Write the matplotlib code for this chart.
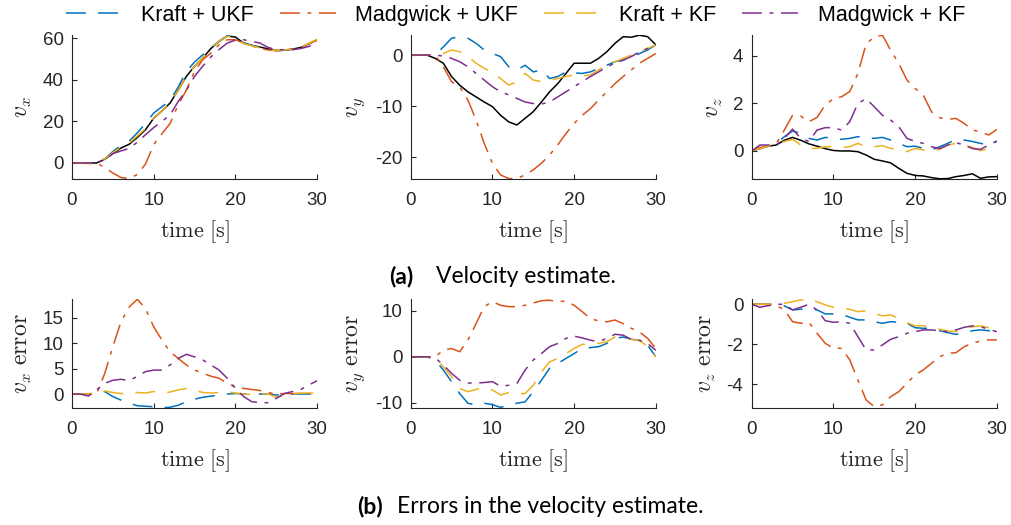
import matplotlib
matplotlib.use("Agg")
import matplotlib.pyplot as plt

plt.rcParams["mathtext.fontset"] = "cm"
plt.rcParams["axes.unicode_minus"] = False
plt.rcParams["font.family"] = ["Liberation Sans", "DejaVu Sans"]

# time axis [s], one sample per second
TIME = list(range(31))

SERIES = ["Kraft + UKF", "Madgwick + UKF", "Kraft + KF", "Madgwick + KF"]
COLORS = ["#0072BD", "#D95319", "#EDB120", "#7E2F8E"]
STYLES = [(0, (13, 8)), (0, (13, 5, 2.5, 5)), (0, (13, 8)), (0, (13, 5, 2.5, 5))]

# ---- velocity estimate (top row) ----
vx_true = [0, 0, 0, 0, 1.8, 4.5, 7.2, 9.0, 12.3, 16.0, 21.5, 25, 28.8, 35, 41.6, 46.5,
           50.4, 55, 58.4, 61, 60.5, 57.6, 56.5, 55.7, 54.8, 54, 54.2, 54.7, 55.5, 57.3, 59.2]
vx_est = [
    [0, 0, 0, 0, 2, 5.5, 8.5, 10.5, 14.5, 19, 24, 27, 30, 36.5, 44, 48.5,
     52, 55.5, 58.5, 61, 60.5, 57.6, 56.5, 55.5, 54.7, 54, 54.2, 54.7, 55.5, 57.3, 59.3],
    [0, 0, 0, 0, -2.2, -4.8, -7, -7.5, -5.5, -0.5, 8.8, 14, 19, 28, 35, 44,
     49.6, 52.8, 56.8, 59.2, 59.2, 57.6, 56.3, 55, 54.3, 54, 54.2, 54.7, 55.5, 57.3, 59],
    [0, 0, -0.3, -0.3, 2, 5, 7.5, 9.5, 13, 16.5, 21.5, 25, 29, 35, 41.5, 46.5,
     50.5, 55, 58.5, 60.8, 60.3, 57.3, 56.3, 55.3, 54.5, 54, 54.3, 54.8, 55.7, 57.5, 59.5],
    [0, 0, 0, 0, 1.5, 4.5, 5.8, 7, 10, 13.6, 17, 20, 23, 29.6, 35, 41.6,
     46.5, 51, 54.5, 57.6, 59, 59.2, 58.5, 57.6, 55.5, 54.4, 54.4, 54.4, 55, 56, 57.3],
]

vy_true = [0, 0, 0, -0.65, -1.6, -4.2, -5.9, -7.2, -8.2, -9.2, -10.1, -11.8, -13.1, -13.7, -12.4, -11.1,
           -9.2, -7.2, -5.6, -3.6, -1.6, -1.6, -1.6, -0.65, 0.65, 2.3, 3.6, 3.5, 3.9, 3.6, 2]
vy_est = [
    [0, 0, 0, 0, 1.6, 3.3, 3.6, 3.3, 2.3, 1, 0.3, -0.3, -2.3, -2.9, -2, -3.3,
     -2.9, -4.6, -4.2, -3.3, -3.5, -3.6, -3.3, -2.6, -2, -1.3, -1, -0.3, 0.3, 1, 2],
    [0, 0, 0, 0, -2.3, -5.2, -6.2, -8.8, -12.7, -17.3, -21.2, -23.5, -24.2, -24.2, -23.5, -22.5,
     -21.2, -19.6, -17.6, -15.4, -13.4, -11.8, -10.5, -8.8, -7.2, -5.6, -4.2, -2.9, -1.6, -0.65, 0.3],
    [0, 0, 0, 0, 0.3, 1, 0.65, -0.3, -1.6, -2.6, -3.3, -4.6, -5.9, -5.2, -3.6, -4.9,
     -5.2, -4.9, -4.6, -4.2, -3.9, -4.1, -3.9, -2.9, -2, -1.3, -0.65, 0, 0.65, 1.3, 2],
    [0, 0, 0, 0, -0.2, -0.65, -1.3, -2.3, -3.6, -4.9, -6.2, -7.2, -7.8, -8.5, -9.2, -9.5,
     -9.6, -9.2, -8.2, -7.2, -6.2, -5.2, -4.2, -3.3, -2.3, -1.6, -1, -0.3, 0.65, 1.3, 2],
]

vz_true = [0, 0.1, 0.2, 0.25, 0.45, 0.57, 0.45, 0.3, 0.2, 0.1, 0.02, 0, 0, -0.03, -0.17, -0.35,
           -0.42, -0.5, -0.73, -0.94, -1.03, -1.05, -1.12, -1.17, -1.16, -1.08, -1.03, -0.96, -1.15, -1.09, -1.08]
vz_est = [
    [0, 0.1, 0.2, 0.3, 0.6, 0.84, 0.74, 0.53, 0.46, 0.57, 0.53, 0.49, 0.53, 0.6, 0.56, 0.53,
     0.57, 0.46, 0.32, 0.18, 0.2, 0.11, 0.04, 0.18, 0.32, 0.49, 0.46, 0.4, 0.32, 0.25, 0.4],
    [0, 0.15, 0.2, 0.3, 0.88, 1.5, 1.47, 1.23, 1.41, 1.93, 2.2, 2.28, 2.5, 3.26, 4.5, 4.8,
     4.87, 4.24, 3.68, 2.98, 2.63, 2.35, 1.65, 1.4, 1.33, 1.37, 1.16, 0.88, 0.81, 0.67, 0.91],
    [0, 0.1, 0.2, 0.3, 0.4, 0.49, 0.25, 0.11, 0.11, 0.18, 0.18, 0.15, 0.18, 0.32, 0.18, 0.18,
     0.22, 0.11, 0.07, -0.03, 0.11, 0.04, -0.03, 0.07, 0.25, 0.32, 0.25, 0.15, 0.01, 0.11, 0.25],
    [0, 0.25, 0.25, 0.25, 0.53, 0.92, 0.53, 0.4, 0.88, 0.98, 0.98, 0.88, 1.23, 2.0, 2.2, 1.86,
     1.5, 1.3, 1.02, 0.53, 0.4, 0.32, 0.18, 0.1, 0.25, 0.35, 0.25, 0.1, 0.07, 0.25, 0.42],
]

# ---- errors in the velocity estimate (bottom row) ----
vx_err = [
    [0, 0, 0, 0, 0.5, -0.5, -1.2, -1.8, -2.3, -2.4, -2.5, -2.7, -2.6, -2.2, -1.5, -1,
     -0.65, -0.4, -0.2, 0, 0.1, 0, 0, 0, 0, -0.2, 0, 0, 0, 0, 0],
    [0, 0, 0, 0, 4, 9.3, 14.2, 17.1, 18.6, 16.8, 13.2, 10.6, 8.3, 7, 5.7, 4.7,
     4.1, 3.5, 3.1, 2.1, 1.4, 1.1, 0.9, 0.7, 0.3, 0, 0.1, 0.1, 0.1, 0.1, 0.1],
    [0, 0, 0, 0.5, 0.6, 0.3, 0.1, 0.1, 0.3, 0.2, 0.5, 0.2, 0.4, 0.8, 1.1, 0.8,
     0.3, 0.2, 0.3, 0.4, 0.2, 0, -0.1, 0.1, 0, -0.6, -0.3, 0, 0.2, 0.2, 0.1],
    [0, 0, -0.4, 0.8, 2.1, 2.7, 2.9, 2.6, 3.5, 4.4, 4.7, 4.7, 5.7, 7, 7.8, 7.3,
     6.7, 5.7, 4.7, 3.1, 1.1, -0.5, -1.5, -1.7, -1.7, -0.85, 0.1, 0.5, 0.9, 1.8, 2.6],
]

vy_err = [
    [0, 0, 0, -0.7, -2.9, -5.4, -8, -10.1, -10.5, -10.1, -10.4, -11, -10.5, -10.1, -9.8, -7.6,
     -5.1, -2.5, -1.45, -0.36, 0.7, 1.8, 2, 2.2, 2.9, 4, 4.3, 3.8, 3.6, 2.5, 0],
    [0, 0, 0, 0, 1.45, 1.8, 1.1, 3.6, 7.2, 10.9, 12, 11.2, 10.9, 10.9, 11.2, 11.7,
     12.2, 12.3, 12, 12.1, 11.2, 9.8, 8.3, 7.8, 7.6, 8, 7.2, 6.2, 5.4, 4, 1.8],
    [0, 0, 0, -0.3, -2.2, -4.3, -6.9, -7.6, -7.1, -6.7, -7.2, -8.3, -7.8, -8, -8, -6.2,
     -3.3, -1.1, -0.36, 0.7, 1.8, 2.7, 2.75, 2.9, 3.3, 4.3, 4.3, 3.8, 3.5, 2.3, 0],
    [0, 0, 0, -0.2, -1.8, -3.6, -5.1, -5.7, -5.7, -5.6, -5.4, -6.4, -6.2, -5.8, -2.9, -0.7,
     0.7, 2.2, 2.9, 4, 4.5, 4.1, 3.6, 3.3, 4, 4.9, 4.7, 3.8, 3.6, 2.9, 1.4],
]

vz_err = [
    [0, 0, 0, 0, -0.08, -0.28, -0.25, -0.2, -0.28, -0.48, -0.48, -0.5, -0.65, -0.78, -0.78, -0.87,
     -0.95, -0.87, -0.9, -0.95, -1.17, -1.2, -1.2, -1.32, -1.42, -1.5, -1.45, -1.32, -1.28, -1.32, -1.42],
    [0, 0, 0, -0.05, -0.28, -0.87, -0.95, -0.9, -1.45, -1.95, -2.2, -2.2, -2.78, -3.78, -4.78, -5.12,
     -5.03, -4.62, -4.37, -3.95, -3.53, -3.28, -2.95, -2.62, -2.45, -2.42, -2.12, -1.95, -1.83, -1.78, -1.78],
    [0, 0, 0, 0, 0.05, 0.13, 0.22, 0.25, 0.13, -0.03, -0.15, -0.2, -0.25, -0.37, -0.32, -0.45,
     -0.58, -0.53, -0.7, -0.92, -1.08, -1.07, -1.2, -1.25, -1.33, -1.37, -1.25, -1.12, -1.08, -1.17, -1.28],
    [0, -0.15, -0.07, 0, 0, -0.28, -0.15, 0, -0.28, -0.82, -0.9, -0.87, -0.95, -1.62, -2.28, -2.28,
     -2.03, -1.75, -1.62, -1.45, -1.37, -1.28, -1.28, -1.33, -1.37, -1.28, -1.15, -1.08, -1.12, -1.25, -1.37],
]

AX_COLOR = "#262626"


def style_axes(ax, ylim, yticks, ylabel):
    ax.set_xlim(0, 30)
    ax.set_ylim(*ylim)
    ax.set_xticks([0, 10, 20, 30])
    ax.set_yticks(yticks)
    for side in ("top", "right"):
        ax.spines[side].set_visible(False)
    for side in ("left", "bottom"):
        ax.spines[side].set_color(AX_COLOR)
        ax.spines[side].set_linewidth(0.8)
    ax.tick_params(direction="in", length=3.5, width=0.8, colors=AX_COLOR,
                   labelsize=13.5, labelcolor=AX_COLOR)
    ax.tick_params(axis="x", pad=9)
    ax.tick_params(axis="y", pad=6)
    ax.set_xlabel(r"$\mathrm{time}\ [\mathrm{s}]$", fontsize=16, color=AX_COLOR, labelpad=7)
    ax.set_ylabel(ylabel, fontsize=17, color=AX_COLOR, labelpad=6)


fig = plt.figure(figsize=(10.11, 5.25), dpi=100)

lefts = [0.0712, 0.4062, 0.7435]
width = 0.2425

top_data = [(vx_true, vx_est), (vy_true, vy_est), (vz_true, vz_est)]
top_ylim = [(-7.7, 61.4), (-24.3, 3.9), (-1.18, 4.87)]
top_ticks = [[0, 20, 40, 60], [-20, -10, 0], [0, 2, 4]]
top_labels = [r"$v_x$", r"$v_y$", r"$v_z$"]

handles = []
for i in range(3):
    ax = fig.add_axes([lefts[i], 0.659, width, 0.274])
    truth, est = top_data[i]
    ax.plot(TIME, truth, color="black", lw=1.1)
    for k in range(4):
        ln, = ax.plot(TIME, est[k], color=COLORS[k], linestyle=STYLES[k], lw=1.1, label=SERIES[k])
        if i == 0:
            handles.append(ln)
    style_axes(ax, top_ylim[i], top_ticks[i], top_labels[i])

bot_data = [vx_err, vy_err, vz_err]
bot_ylim = [(-2.8, 18.6), (-11.2, 12.5), (-5.2, 0.25)]
bot_ticks = [[0, 5, 10, 15], [-10, 0, 10], [-4, -2, 0]]
bot_labels = [r"$v_x\ \mathrm{error}$", r"$v_y\ \mathrm{error}$", r"$v_z\ \mathrm{error}$"]

for i in range(3):
    ax = fig.add_axes([lefts[i], 0.2223, width, 0.2076])
    for k in range(4):
        ax.plot(TIME, bot_data[i][k], color=COLORS[k], linestyle=STYLES[k], lw=1.1)
    style_axes(ax, bot_ylim[i], bot_ticks[i], bot_labels[i])

fig.legend(handles=handles, loc="center", bbox_to_anchor=(0.51, 0.971), ncol=4,
           frameon=False, fontsize=15.5, handlelength=2.6, handletextpad=0.9,
           columnspacing=1.2)

cap_font = ["Lato", "DejaVu Sans"]
fig.text(389 / 1011, 0.461, "(a)", fontsize=16.5, fontweight="bold", family=cap_font, va="baseline")
fig.text(436 / 1011, 0.461, "Velocity estimate.", fontsize=16.5, family=cap_font, va="baseline")
fig.text(357 / 1011, 0.023, "(b)", fontsize=16.5, fontweight="bold", family=cap_font, va="baseline")
fig.text(397 / 1011, 0.023, "Errors in the velocity estimate.", fontsize=16.5, family=cap_font, va="baseline")

fig.savefig("out.png", dpi=100)
